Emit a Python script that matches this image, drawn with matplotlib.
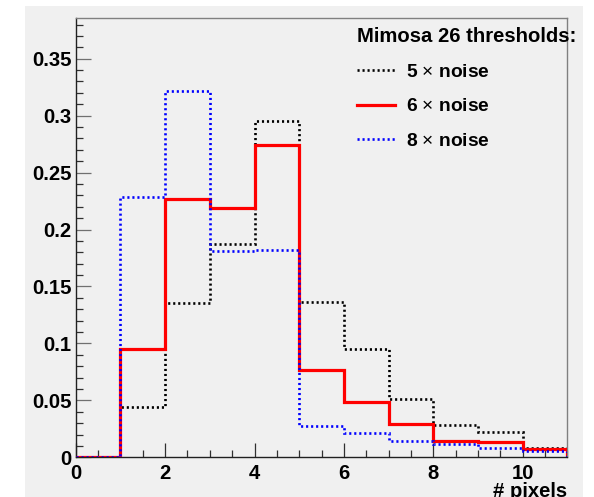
import numpy as np
import matplotlib
matplotlib.use("Agg")
import matplotlib.pyplot as plt
from matplotlib.patches import Rectangle
from matplotlib.ticker import MultipleLocator
from matplotlib.lines import Line2D

# ---- data ----
edges = np.arange(0, 12)  # bin edges 0..11
noise5 = [0.0, 0.0444, 0.1358, 0.187, 0.2956, 0.1364, 0.0948, 0.0512, 0.0284, 0.0222, 0.0082]
noise6 = [0.0, 0.0948, 0.2266, 0.2189, 0.274, 0.0767, 0.0488, 0.0292, 0.0146, 0.0137, 0.0073]
noise8 = [0.0, 0.2288, 0.3219, 0.1814, 0.1818, 0.0275, 0.0216, 0.0146, 0.0117, 0.0082, 0.0058]
labels = [r"5 $\times$ noise", r"6 $\times$ noise", r"8 $\times$ noise"]
legend_title = "Mimosa 26 thresholds:"
xlabel = "# pixels"

plt.rcParams['font.family'] = ['Liberation Sans', 'DejaVu Sans']
plt.rcParams['mathtext.fontset'] = 'custom'
plt.rcParams['mathtext.rm'] = 'Liberation Sans'

W, H = 594, 497
fig = plt.figure(figsize=(W / 100, H / 100), dpi=100, facecolor='white')
bg = '#f0f0f0'
fig.patches.append(Rectangle((25 / W, 0), 558 / W, 491 / H, transform=fig.transFigure,
                             facecolor=bg, edgecolor='none', zorder=-10))

ax = fig.add_axes([75.7 / W, 1 - 457.3 / H, (567.4 - 75.7) / W, (457.3 - 17.7) / H])
ax.set_facecolor(bg)

dot = (0, (0.8, 1.1))
dlw = 1.9
h5 = ax.stairs(noise5, edges, baseline=0, color='black', lw=dlw, linestyle=dot, zorder=3)
h6 = ax.stairs(noise6, edges, baseline=0, color='#ff0000', lw=2.3, zorder=4)
h8 = ax.stairs(noise8, edges, baseline=0, color='#0000ff', lw=dlw, linestyle=dot, zorder=5)

ax.set_xlim(0, 11)
ax.set_ylim(0, 0.386)

ax.xaxis.set_major_locator(MultipleLocator(2))
ax.xaxis.set_minor_locator(MultipleLocator(0.5))
ax.yaxis.set_major_locator(MultipleLocator(0.05))
ax.yaxis.set_minor_locator(MultipleLocator(0.01))

ax.set_yticks(np.arange(0, 0.36, 0.05))
ax.set_yticklabels(['0', '0.05', '0.1', '0.15', '0.2', '0.25', '0.3', '0.35'])
ax.set_xticks([0, 2, 4, 6, 8, 10])
ax.set_xticklabels(['0', '2', '4', '6', '8', '10'])

ax.tick_params(axis='both', which='both', direction='in', top=False, right=False)
ax.tick_params(axis='y', which='major', length=10.8, width=0.9, color='#707070', pad=3,
               labelsize=14.6)
ax.tick_params(axis='y', which='minor', length=5, width=0.9, color='#303030')
ax.tick_params(axis='x', which='major', length=10, width=0.9, color='#303030', pad=4.5,
               labelsize=14.6)
ax.tick_params(axis='x', which='minor', length=5, width=0.9, color='#303030')
for lab in ax.get_xticklabels() + ax.get_yticklabels():
    lab.set_fontweight('bold')

for s in ['left', 'bottom']:
    ax.spines[s].set_color('#202020')
    ax.spines[s].set_linewidth(1.0)
for s in ['top', 'right']:
    ax.spines[s].set_color('#808080')
    ax.spines[s].set_linewidth(1.0)

fig.text(567.4 / W, 1 - 482 / H, xlabel, ha='right', va='top', fontsize=14.6,
         fontweight='bold')

handles = [Line2D([], [], color='black', lw=dlw, linestyle=dot),
           Line2D([], [], color='#ff0000', lw=2.3),
           Line2D([], [], color='#0000ff', lw=dlw, linestyle=dot)]
leg = fig.legend(handles, labels, title=legend_title, loc='upper left',
                 bbox_to_anchor=(357 / W, 1 - 27 / H), bbox_transform=fig.transFigure,
                 frameon=False, borderpad=0, borderaxespad=0, handlelength=2.0,
                 handletextpad=0.55, labelspacing=0.9, alignment='left',
                 prop={'weight': 'bold', 'size': 13.8},
                 title_fontproperties={'weight': 'bold', 'size': 14.6})
leg.set_zorder(10)

fig.savefig('out.png', dpi=100, facecolor='white')
